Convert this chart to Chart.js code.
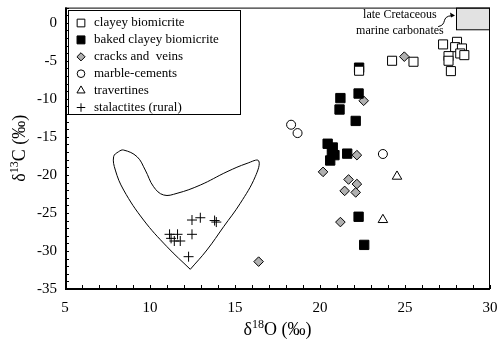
<!DOCTYPE html>
<html>
<head>
<meta charset="utf-8">
<script src="https://cdn.jsdelivr.net/npm/chart.js@4.4.1/dist/chart.umd.min.js"></script>
<style>html,body{margin:0;padding:0;background:#fff}</style>
</head>
<body>
<canvas id="c" width="502" height="342"></canvas>
<script>
const xTicks = [5, 10, 15, 20, 25, 30];
const yTicks = [0, -5, -10, -15, -20, -25, -30, -35];

const seriesNames = ['clayey biomicrite', 'baked clayey biomicrite', 'cracks and  veins',
                     'marble-cements', 'travertines', 'stalactites (rural)'];

// [d18O, d13C]
const clayey = [[27.24,-2.84],[28.06,-2.5],[27.95,-3.2],[28.35,-3.37],[28.25,-4.03],[28.49,-4.25],
                [27.56,-4.38],[27.56,-4.99],[27.7,-6.35],[24.24,-4.99],[25.5,-5.12],[22.3,-6.3]];
const baked = [[22.3,-5.9],[21.2,-9.9],[21.15,-11.4],[22.27,-9.3],[22.1,-12.9],[20.45,-15.9],
               [20.75,-16.4],[20.85,-17.4],[20.6,-18.1],[20.7,-17.0],[21.6,-17.2],[22.27,-25.5],[22.6,-29.2]];
const veins = [[24.96,-4.45],[22.57,-10.25],[22.17,-17.4],[20.18,-19.6],[21.68,-20.6],[22.17,-21.2],
               [21.45,-22.1],[22.1,-22.3],[21.2,-26.2],[16.39,-31.4]];
const marble = [[18.3,-13.4],[18.68,-14.5],[23.7,-17.25]];
const travertines = [[24.53,-20.2],[23.7,-25.9]];
const stalactites = [[12.47,-25.93],[12.96,-25.63],[13.8,-26.0],[13.9,-26.2],[11.15,-27.81],[11.62,-27.81],
                     [12.47,-27.81],[11.24,-28.34],[11.43,-28.69],[11.78,-28.69],[12.27,-30.75]];

// outline drawn round the stalactites, starts and ends at the bottom corner
const envelope = [[12.37,-32.41],[11.0,-29.44],[9.62,-25.93],[8.45,-21.99],[7.96,-19.36],[7.86,-17.61],
                  [8.15,-16.95],[8.45,-16.73],[9.24,-17.61],[9.72,-19.36],[10.21,-21.55],[10.8,-22.64],
                  [11.59,-22.42],[12.96,-21.33],[14.53,-19.58],[15.71,-18.48],[16.39,-18.14],[16.19,-20.24],
                  [15.31,-23.73],[14.33,-26.81],[13.35,-29.87],[12.37,-32.41]];

// late Cretaceous marine carbonates field: x0, x1, y0, y1
const cretaceousBox = [28.0, 30, -0.85, 2];
const cretaceousLabel = ['late Cretaceous', 'marine carbonates'];

const SERIF = '"Liberation Serif", "Times New Roman", serif';
const pts = arr => arr.map(([x, y]) => ({x, y}));

const styles = [
  {pointStyle:'rect',     pointRadius:6.4, backgroundColor:'#fff',    borderColor:'#000', borderWidth:1},
  {pointStyle:'rect',     pointRadius:6.6, backgroundColor:'#000',    borderColor:'#000', borderWidth:1},
  {pointStyle:'rectRot',  pointRadius:4.8, backgroundColor:'#b0b0b0', borderColor:'#000', borderWidth:1},
  {pointStyle:'circle',   pointRadius:4.5, backgroundColor:'#fff',    borderColor:'#000', borderWidth:1},
  {pointStyle:'triangle', pointRadius:5.5, backgroundColor:'#fff',    borderColor:'#000', borderWidth:1},
  {pointStyle:'cross',    pointRadius:5,   backgroundColor:'#000',    borderColor:'#000', borderWidth:1}
];
const series = [clayey, baked, veins, marble, travertines, stalactites];

const noPad = s => { s.paddingTop = 0; s.paddingBottom = 0; s.paddingLeft = 0; s.paddingRight = 0; };

const chartDeco = {
  id: 'chartDeco',
  beforeDatasetsDraw(chart) {
    const {ctx, scales: {x, y}} = chart;
    ctx.save();
    // grey field
    const bx0 = x.getPixelForValue(cretaceousBox[0]), bx1 = x.getPixelForValue(cretaceousBox[1]);
    const by0 = y.getPixelForValue(cretaceousBox[3]), by1 = y.getPixelForValue(cretaceousBox[2]);
    ctx.fillStyle = '#e2e2e2';
    ctx.fillRect(bx0, by0, bx1 - bx0, by1 - by0);
    ctx.strokeStyle = '#000'; ctx.lineWidth = 1;
    ctx.strokeRect(bx0 + 0.5, by0 + 0.5, bx1 - bx0 - 1, by1 - by0);
    // label
    ctx.fillStyle = '#000';
    ctx.font = '12px ' + SERIF;
    ctx.textAlign = 'center'; ctx.textBaseline = 'middle';
    const lx = x.getPixelForValue(24.7);
    ctx.fillText(cretaceousLabel[0], lx, y.getPixelForValue(1.0));
    ctx.fillText(cretaceousLabel[1], lx, y.getPixelForValue(-1.0));
    // curly arrow
    const ax = x.getPixelForValue(26.95), ay = y.getPixelForValue(-0.5);
    const tx = bx0 - 1, ty = y.getPixelForValue(0.95);
    ctx.beginPath();
    ctx.moveTo(ax, ay);
    ctx.bezierCurveTo(ax + 10, ay - 2, ax + 2, ty + 1, tx - 3, ty);
    ctx.stroke();
    ctx.beginPath();
    ctx.moveTo(tx, ty);
    ctx.lineTo(tx - 5, ty - 3);
    ctx.lineTo(tx - 4, ty + 2);
    ctx.closePath();
    ctx.fill();
    ctx.restore();
  },
  afterDraw(chart) {
    const {ctx, chartArea: a, scales: {x, y}} = chart;
    ctx.save();
    ctx.strokeStyle = '#000';
    // frame
    ctx.lineWidth = 1;
    ctx.strokeRect(a.left + 0.5, a.top + 0.5, a.right - a.left - 1, a.bottom - a.top);
    ctx.lineWidth = 2;
    ctx.beginPath();
    ctx.moveTo(a.left + 1, a.top);
    ctx.lineTo(a.left + 1, a.bottom);
    ctx.lineTo(a.right, a.bottom);
    ctx.stroke();
    // inner ticks
    ctx.lineWidth = 1;
    ctx.beginPath();
    for (let v = xTicks[0]; v <= xTicks[xTicks.length - 1]; v++) {
      const px = Math.round(x.getPixelForValue(v)) + 0.5;
      ctx.moveTo(px, a.bottom);
      ctx.lineTo(px, a.bottom - 4);
    }
    for (let v = -35; v <= 2; v++) {
      const py = Math.round(y.getPixelForValue(v)) + 0.5;
      ctx.moveTo(a.left, py);
      ctx.lineTo(a.left + 4, py);
    }
    ctx.stroke();

    // legend
    const L = {x: 68, y: 10, w: 172, h: 104};
    ctx.fillStyle = '#fff';
    ctx.fillRect(L.x, L.y, L.w, L.h);
    ctx.strokeRect(L.x + 0.5, L.y + 0.5, L.w, L.h);
    ctx.font = '13px ' + SERIF;
    ctx.textAlign = 'left'; ctx.textBaseline = 'middle';
    seriesNames.forEach((name, i) => {
      const cy = 23 + i * 16.9;
      const s = styles[i];
      ctx.fillStyle = s.backgroundColor;
      ctx.strokeStyle = s.borderColor;
      ctx.lineWidth = 1;
      Chart.helpers.drawPoint(ctx, {pointStyle: s.pointStyle, radius: s.pointRadius * 0.85,
                                    rotation: 0, borderWidth: 1}, 81, cy);
      ctx.fillStyle = '#000';
      ctx.fillText(name, 94, cy);
    });

    // axis titles with superscripts
    const drawTitle = (parts) => {
      let w = 0;
      parts.forEach(p => { ctx.font = p[1] + 'px ' + SERIF; w += ctx.measureText(p[0]).width; });
      let cx = -w / 2;
      parts.forEach(p => {
        ctx.font = p[1] + 'px ' + SERIF;
        ctx.fillText(p[0], cx, -p[2]);
        cx += ctx.measureText(p[0]).width;
      });
    };
    ctx.fillStyle = '#000';
    ctx.textAlign = 'left'; ctx.textBaseline = 'alphabetic';
    ctx.save();
    ctx.translate((a.left + a.right) / 2, 335);
    drawTitle([['δ', 18, 0], ['18', 12, 7], ['O (‰)', 18, 0]]);
    ctx.restore();
    ctx.save();
    ctx.translate(25, (a.top + a.bottom) / 2);
    ctx.rotate(-Math.PI / 2);
    drawTitle([['δ', 18, 0], ['13', 12, 7], ['C (‰)', 18, 0]]);
    ctx.restore();
    ctx.restore();
  }
};

new Chart(document.getElementById('c'), {
  type: 'scatter',
  data: {
    datasets: series.map((d, i) => Object.assign({label: seriesNames[i], data: pts(d)}, styles[i])).concat([{
      label: 'envelope',
      data: pts(envelope),
      showLine: true,
      pointRadius: 0,
      borderColor: '#000',
      borderWidth: 1,
      tension: 0.4,
      fill: false
    }])
  },
  options: {
    responsive: false,
    animation: false,
    layout: {padding: {top: 7, right: 12, left: 0, bottom: 0}},
    plugins: {legend: {display: false}, tooltip: {enabled: false}},
    scales: {
      x: {
        type: 'linear', min: 5, max: 30,
        grid: {display: false, drawTicks: false},
        border: {display: false},
        afterBuildTicks: s => { s.ticks = xTicks.map(v => ({value: v})); },
        afterFit: s => { s.height = 53; noPad(s); },
        ticks: {color: '#000', font: {family: SERIF, size: 15}, padding: 10, maxRotation: 0}
      },
      y: {
        type: 'linear', min: -35, max: 2,
        grid: {display: false, drawTicks: false},
        border: {display: false},
        afterBuildTicks: s => { s.ticks = yTicks.map(v => ({value: v})); },
        afterFit: s => { s.width = 65; noPad(s); },
        ticks: {color: '#000', font: {family: SERIF, size: 15}, padding: 8}
      }
    }
  },
  plugins: [chartDeco]
});
</script>
</body>
</html>
